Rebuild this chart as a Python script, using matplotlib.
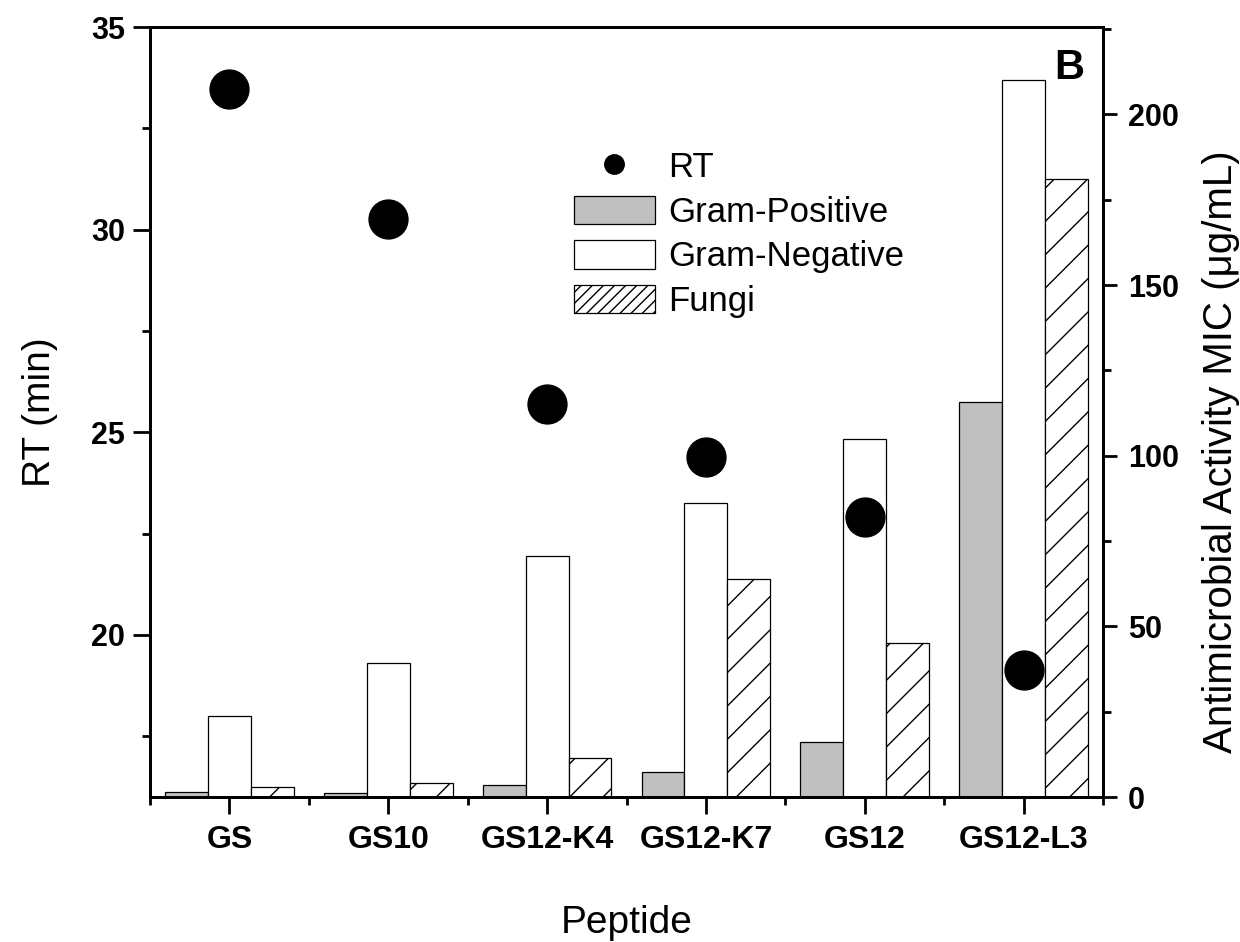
import matplotlib
matplotlib.use("Agg")
import matplotlib.pyplot as plt
from matplotlib.lines import Line2D
from matplotlib.patches import Patch
from matplotlib.ticker import MultipleLocator
import numpy as np

plt.rcParams["font.family"] = ["Liberation Sans", "DejaVu Sans"]
plt.rcParams["hatch.linewidth"] = 1.0

peptides = ["GS", "GS10", "GS12-K4", "GS12-K7", "GS12", "GS12-L3"]
rt_min = [33.47, 30.27, 25.69, 24.39, 22.90, 19.14]
gram_positive = [1.5, 1.3, 3.4, 7.4, 16.0, 115.8]
gram_negative = [23.8, 39.2, 70.6, 86.1, 105.0, 210.0]
fungi = [2.8, 4.0, 11.4, 63.9, 45.2, 181.0]

x = np.arange(len(peptides))
w = 0.27

fig = plt.figure(figsize=(12.4, 9.42), dpi=100)
ax = fig.add_axes([0.121, 0.1539, 0.7685, 0.8174])
ax2 = ax.twinx()
ax.set_zorder(ax2.get_zorder() + 1)
ax.patch.set_visible(False)

# bars on the right (MIC) axis
ax2.bar(x - w, gram_positive, w, color="#c0c0c0", edgecolor="black", linewidth=0.9)
ax2.bar(x, gram_negative, w, color="white", edgecolor="black", linewidth=0.9)
ax2.bar(x + w, fungi, w, color="white", edgecolor="black", linewidth=0.9, hatch="/")

# retention time dots on the left axis
ax.plot(x, rt_min, "o", color="black", markersize=28, linestyle="none")

ax.set_xlim(-0.5, 5.5)
ax.set_ylim(16.0, 35)
ax2.set_ylim(0, 225.6)

ax.set_xticks(x)
ax.set_xticklabels(peptides, fontsize=23, fontweight="bold")
ax.xaxis.set_minor_locator(MultipleLocator(1, offset=0.5))
ax.set_yticks([20, 25, 30, 35])
ax.yaxis.set_minor_locator(MultipleLocator(2.5))
ax2.set_yticks([0, 50, 100, 150, 200])
ax2.yaxis.set_minor_locator(MultipleLocator(25))

for a in (ax, ax2):
    for s in a.spines.values():
        s.set_linewidth(2.0)
ax.tick_params(axis="both", which="major", direction="out", length=12, width=2.0)
ax.tick_params(axis="both", which="minor", direction="out", length=6, width=2.0)
ax.tick_params(axis="x", which="major", pad=8)
ax.tick_params(axis="y", which="major", pad=6, labelsize=22)
ax2.tick_params(axis="y", which="major", direction="out", length=10, width=2.0, pad=8, labelsize=22)
ax2.tick_params(axis="y", which="minor", direction="out", length=6, width=2.0)
for t in ax.get_yticklabels() + ax2.get_yticklabels():
    t.set_fontweight("bold")

ax.set_xlabel("Peptide", fontsize=28, labelpad=36)
ax.set_ylabel("RT (min)", fontsize=28, labelpad=24)
ax2.set_ylabel("Antimicrobial Activity MIC (\u03bcg/mL)", fontsize=29)
ax2.yaxis.set_label_coords(1.104, 0.449)

ax.text(0.965, 0.947, "B", transform=ax.transAxes, fontsize=30, fontweight="bold",
        ha="center", va="center")

handles = [
    Line2D([], [], marker="o", color="black", linestyle="none", markersize=14),
    Patch(facecolor="#c0c0c0", edgecolor="black", linewidth=0.9),
    Patch(facecolor="white", edgecolor="black", linewidth=0.9),
    Patch(facecolor="white", edgecolor="black", linewidth=0.9, hatch="///"),
]
labels = ["RT", "Gram-Positive", "Gram-Negative", "Fungi"]
ax.legend(handles, labels, loc="upper left", bbox_to_anchor=(574 / 1240, 1 - 151 / 942),
          bbox_transform=fig.transFigure, frameon=False, fontsize=25,
          handlelength=2.33, handleheight=0.9, handletextpad=0.37,
          labelspacing=0.32, borderpad=0, borderaxespad=0)

fig.savefig("out.png", dpi=100)
